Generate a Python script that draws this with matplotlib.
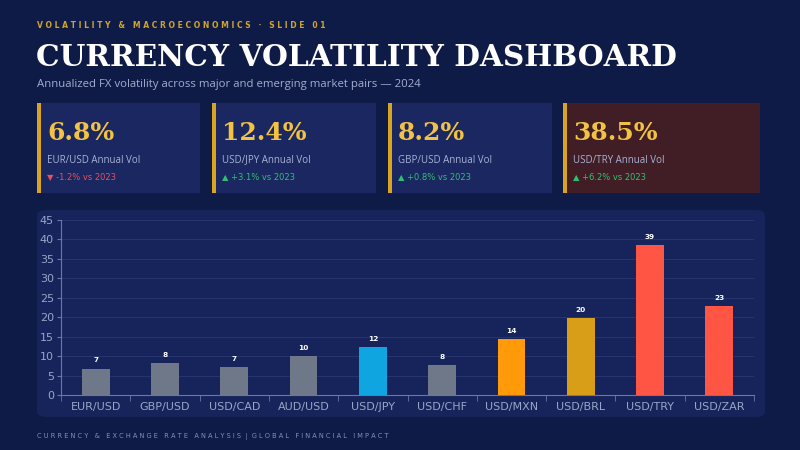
import matplotlib
matplotlib.use("Agg")
import matplotlib.pyplot as plt
from matplotlib.patches import FancyBboxPatch, Rectangle

# -----------------------------
# DATA
# -----------------------------
pairs = ["EUR/USD", "GBP/USD", "USD/CAD", "AUD/USD", "USD/JPY",
         "USD/CHF", "USD/MXN", "USD/BRL", "USD/TRY", "USD/ZAR"]
vols = [6.8, 8.2, 7.3, 10.1, 12.4, 7.8, 14.3, 19.8, 38.5, 22.9]
bar_colors = ["#6f7889", "#6f7889", "#6f7889", "#6f7889", "#0ea5e0",
              "#6f7889", "#ff9a0a", "#d89e17", "#ff5545", "#ff5545"]

card_values = ["6.8%", "12.4%", "8.2%", "38.5%"]
card_labels = ["EUR/USD Annual Vol", "USD/JPY Annual Vol",
               "GBP/USD Annual Vol", "USD/TRY Annual Vol"]
card_changes = ["-1.2% vs 2023", "+3.1% vs 2023", "+0.8% vs 2023", "+6.2% vs 2023"]
card_up = [False, True, True, True]

# -----------------------------
# LAYOUT HELPERS (pixels -> figure fraction)
# -----------------------------
W, H = 800, 450
BG = "#0f1b47"
GOLD = "#d9a520"


def fx(x):
    return x / W


def fy(y):
    return 1 - y / H


def spaced(s):
    return " ".join(s)


fig = plt.figure(figsize=(8, 4.5), dpi=100)
fig.patch.set_facecolor(BG)

# header
fig.text(fx(37), fy(26), spaced("VOLATILITY & MACROECONOMICS · SLIDE 01"),
         color="#d0a52a", fontsize=5.5, fontweight="bold", va="center")
fig.text(fx(36), fy(58), "CURRENCY VOLATILITY DASHBOARD", color="white",
         fontsize=21.3, fontweight="bold", family="DejaVu Serif", va="center")
fig.text(fx(37), fy(84),
         "Annualized FX volatility across major and emerging market pairs — 2024",
         color="#a3adcf", fontsize=8.2, va="center", family="Open Sans")

# -----------------------------
# KPI CARDS
# -----------------------------
cards_x = [(37, 200), (212, 376), (388, 552), (563, 760)]
for i, (x0, x1) in enumerate(cards_x):
    face = "#411e25" if i == 3 else "#1a2760"
    fig.patches.append(Rectangle((fx(x0), fy(193)), fx(x1 - x0), (193 - 103) / H,
                                 transform=fig.transFigure, facecolor=face,
                                 edgecolor="none", zorder=0))
    fig.patches.append(Rectangle((fx(x0), fy(193)), fx(3.5), (193 - 103) / H,
                                 transform=fig.transFigure, facecolor=GOLD,
                                 edgecolor="none", zorder=1))
    fig.text(fx(x0 + 10), fy(133), card_values[i], color="#f2c244",
             fontsize=18, fontweight="bold", family="DejaVu Serif", va="center")
    fig.text(fx(x0 + 10), fy(160), card_labels[i], color="#a9b3d6",
             fontsize=7, family="Open Sans", va="center")
    arrow = "▲" if card_up[i] else "▼"
    col = "#2fc170" if card_up[i] else "#e8505a"
    fig.text(fx(x0 + 10), fy(177), arrow + " " + card_changes[i], color=col,
             fontsize=6, family="DejaVu Sans", va="center")

# -----------------------------
# CHART PANEL
# -----------------------------
fig.patches.append(FancyBboxPatch((fx(37), fy(417)), fx(765 - 37), (417 - 210) / H,
                                  boxstyle="round,pad=0,rounding_size=0.012",
                                  transform=fig.transFigure, facecolor="#17245b",
                                  edgecolor="none", zorder=0))

ax = fig.add_axes([fx(61), fy(395), fx(754 - 61), (395 - 220) / H])
ax.set_zorder(3)
ax.set_facecolor("none")
x = range(len(pairs))
bars = ax.bar(x, vols, width=0.4, color=bar_colors, zorder=3)
for b, v in zip(bars, vols):
    ax.text(b.get_x() + b.get_width() / 2, v + 1.3, str(int(v + 0.5)), ha="center",
            va="bottom", color="white", fontsize=5.3, fontweight="bold")

ax.set_xlim(-0.5, len(pairs) - 0.5)
ax.set_ylim(0, 45)
ax.set_yticks(range(0, 46, 5))
ax.set_xticks([i - 0.5 for i in x] + [len(pairs) - 0.5], minor=True)
ax.set_xticks(list(x))
ax.set_xticklabels(pairs)
ax.grid(axis="y", color="#26356f", linewidth=0.8, zorder=0)
ax.tick_params(axis="y", colors="#6a78a8", labelsize=8, length=3, pad=2)
ax.tick_params(axis="x", which="major", colors="#6a78a8", labelsize=8, length=0, pad=5)
ax.tick_params(axis="x", which="minor", colors="#6a78a8", length=4)
for lbl in ax.get_xticklabels() + ax.get_yticklabels():
    lbl.set_color("#9aa5c8")
for s in ["top", "right"]:
    ax.spines[s].set_visible(False)
ax.spines["left"].set_color("#6a78a8")
ax.spines["bottom"].set_color("#6a78a8")

# footer
fig.text(fx(37), fy(437), spaced("CURRENCY & EXCHANGE RATE ANALYSIS") + "  |  "
         + spaced("GLOBAL FINANCIAL IMPACT"),
         color="#8590b5", fontsize=4.8, va="center")

fig.savefig("out.png", dpi=100, facecolor=BG)
